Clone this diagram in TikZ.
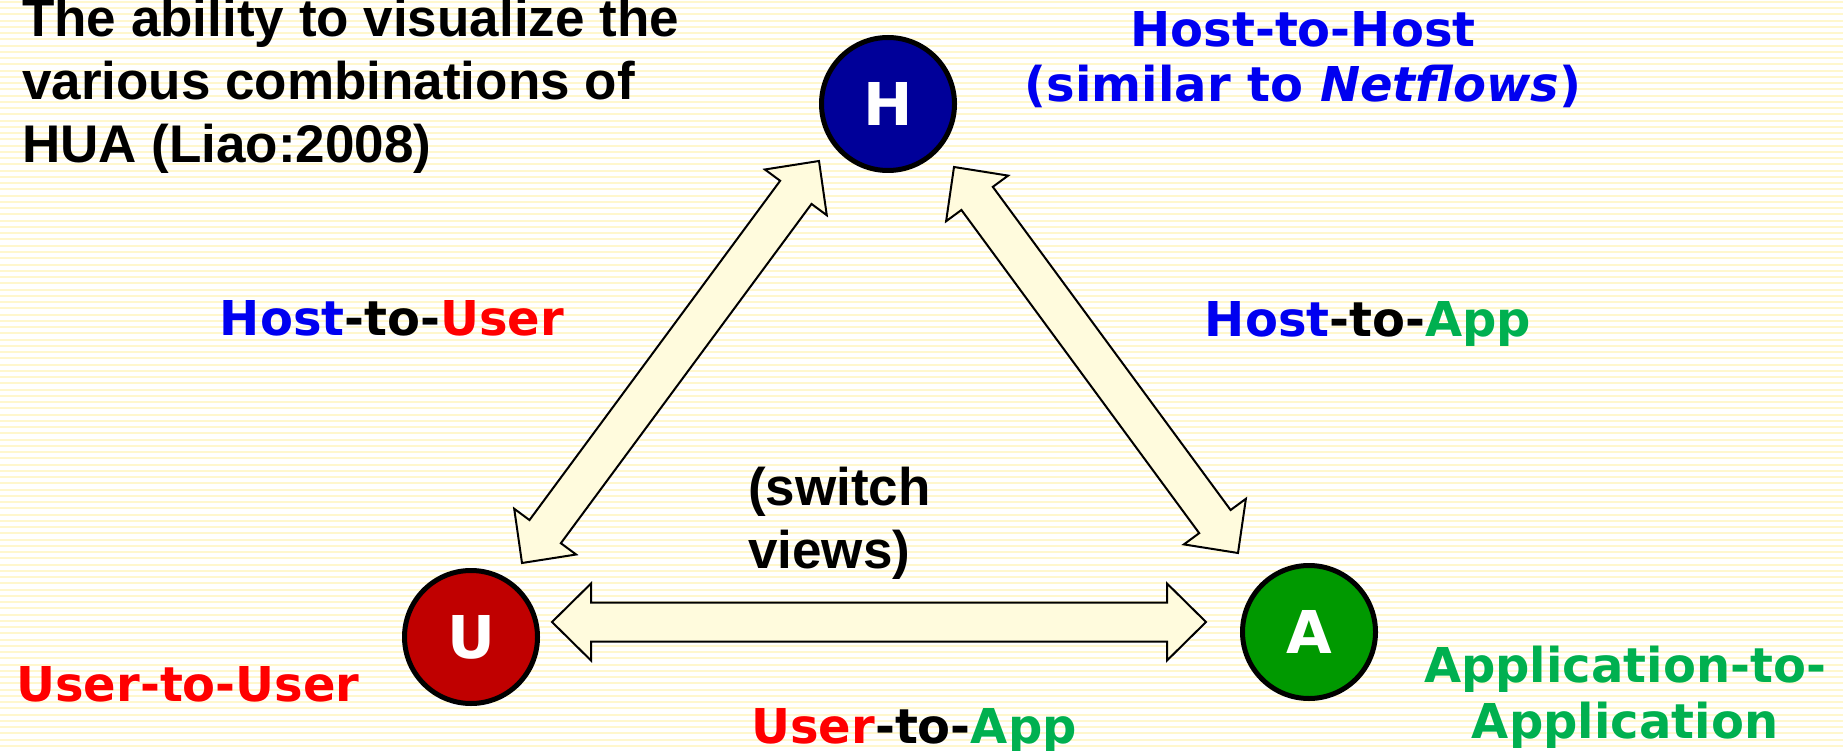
\documentclass[tikz,border=0pt]{standalone}
\usepackage{fontspec}
\setmainfont{Liberation Sans}
\newfontfamily\verd{DejaVu Sans}
\usetikzlibrary{calc}

\definecolor{hostblue}{RGB}{0,0,240}
\definecolor{userred}{RGB}{255,0,0}
\definecolor{appgreen}{RGB}{0,176,80}
\definecolor{hfill}{RGB}{0,0,153}
\definecolor{ufill}{RGB}{192,0,0}
\definecolor{afill}{RGB}{0,153,0}
\definecolor{arrowfill}{RGB}{255,251,221}
\definecolor{stripe}{RGB}{255,247,205}

% double-headed block arrow between two points
\newcommand\twoheadblock[2]{%
  \draw[blockarrow] (#1)
    -- ($(#1)!39pt!(#2)!38.5pt!90:(#2)$)
    -- ($(#1)!39pt!(#2)!19.5pt!90:(#2)$)
    -- ($(#2)!39pt!(#1)!19.5pt!-90:(#1)$)
    -- ($(#2)!39pt!(#1)!38.5pt!-90:(#1)$)
    -- (#2)
    -- ($(#2)!39pt!(#1)!38.5pt!90:(#1)$)
    -- ($(#2)!39pt!(#1)!19.5pt!90:(#1)$)
    -- ($(#1)!39pt!(#2)!19.5pt!-90:(#2)$)
    -- ($(#1)!39pt!(#2)!38.5pt!-90:(#2)$)
    -- cycle;}

\begin{document}
\begin{tikzpicture}[x=1pt,y=-1pt,
  hua/.style={circle, draw=black, line width=5pt, minimum size=133pt,
    inner sep=0pt, text=white, font=\verd\bfseries\fontsize{59}{60}\selectfont},
  vlabel/.style={inner sep=0pt, align=center,
    font=\verd\bfseries\fontsize{48}{56}\selectfont},
  alabel/.style={inner sep=0pt, align=left, anchor=base west,
    font=\bfseries\fontsize{53}{63}\selectfont},
  blockarrow/.style={draw=black, line width=2pt, fill=arrowfill, line join=miter}]

  % striped background
  \useasboundingbox (0,0) rectangle (1843,751);
  \fill[white] (0,0) rectangle (1843,751);
  \foreach \k in {0,...,120}
    \fill[stripe] (0,\k*6.25+1) rectangle (1843,\k*6.25+3);

  % the three HUA nodes
  \node[hua, fill=hfill] (H) at (888,104) {H};
  \node[hua, fill=ufill] (U) at (471,637) {U};
  \node[hua, fill=afill] (A) at (1309,632) {A};

  % arrow end points
  \coordinate (hu1) at (819,161);
  \coordinate (hu2) at (522,563);
  \coordinate (ha1) at (954,167);
  \coordinate (ha2) at (1238,553);
  \coordinate (ua1) at (552,622);
  \coordinate (ua2) at (1206,622);

  \twoheadblock{hu1}{hu2}
  \twoheadblock{ha1}{ha2}
  \twoheadblock{ua1}{ua2}

  % texts (multi-line nodes are placed by the baseline of their last line)
  \node[alabel] (title) at (22,163)
    {The ability to visualize the\\various combinations of\\HUA (Liao:2008)};
  \node[alabel] (switch) at (748,568) {(switch\\views)};

  \node[vlabel, anchor=base, text=hostblue,
        font=\verd\bfseries\fontsize{48}{55}\selectfont] (hh) at (1303,102)
    {Host-to-Host\\(similar to \textit{Netflows})};
  \node[vlabel, anchor=base] (hul) at (392,335)
    {\textcolor{hostblue}{Host}-to-\textcolor{userred}{User}};
  \node[vlabel, anchor=base] (hal) at (1368,336)
    {\textcolor{hostblue}{Host}-to-\textcolor{appgreen}{App}};
  \node[vlabel, anchor=base, text=userred] (uu) at (188,701) {User-to-User};
  \node[vlabel, anchor=base] (ual) at (914,743)
    {\textcolor{userred}{User}-to-\textcolor{appgreen}{App}};
  \node[vlabel, anchor=base, text=appgreen] (aa) at (1625,738)
    {Application-to-\\Application};
\end{tikzpicture}
\end{document}
